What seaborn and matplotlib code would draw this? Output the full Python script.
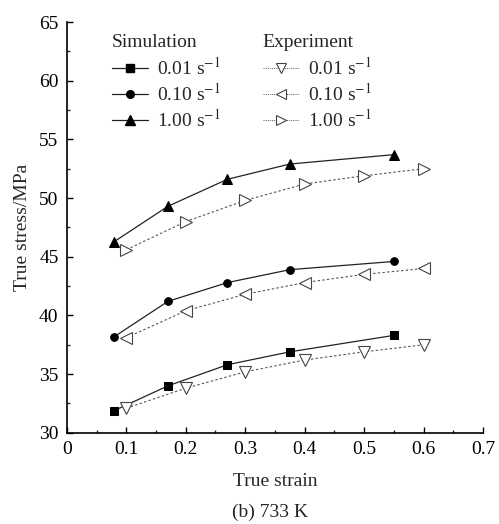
import matplotlib
matplotlib.use("Agg")
import matplotlib.pyplot as plt
from matplotlib.ticker import MultipleLocator, FuncFormatter
from matplotlib.lines import Line2D
import seaborn as sns
import pandas as pd

sns.set_theme(style="ticks")
plt.rcParams["font.family"] = ["Liberation Serif", "DejaVu Serif"]
plt.rcParams["mathtext.fontset"] = "stix"

rate_labels = ["0.01 s$^{-1}$", "0.10 s$^{-1}$", "1.00 s$^{-1}$"]

sim_strain = [0.08, 0.17, 0.27, 0.375, 0.55]
sim_001 = [31.9, 34.0, 35.8, 36.9, 38.3]
sim_010 = [38.2, 41.2, 42.8, 43.9, 44.6]
sim_100 = [46.3, 49.3, 51.6, 52.9, 53.7]

exp_strain = [0.1, 0.2, 0.3, 0.4, 0.5, 0.6]
exp_001 = [32.1, 33.8, 35.2, 36.2, 36.9, 37.5]
exp_010 = [38.1, 40.4, 41.8, 42.8, 43.5, 44.0]
exp_100 = [45.6, 48.0, 49.8, 51.2, 51.9, 52.5]

FS = 14

fig = plt.figure(figsize=(4.99, 5.24), dpi=100)
ax = fig.add_axes([0.134, 0.174, 0.834, 0.784])

sim_markers = ["s", "o", "^"]
sim_sizes = [5.5, 5.5, 7]
exp_markers = ["v", "<", ">"]

sim_handles = []
for vals, mk, ms, lab in zip([sim_001, sim_010, sim_100], sim_markers, sim_sizes, rate_labels):
    df = pd.DataFrame({"strain": sim_strain, "stress": vals})
    sns.lineplot(data=df, x="strain", y="stress", ax=ax, color="#222222",
                 linewidth=0.9, marker=mk, markersize=ms, markeredgecolor="black",
                 markerfacecolor="black")
    sim_handles.append(Line2D([], [], color="#222222", linewidth=0.9, marker=mk,
                              markersize=ms, markeredgecolor="black",
                              markerfacecolor="black", label=lab))

exp_handles = []
for vals, mk, lab in zip([exp_001, exp_010, exp_100], exp_markers, rate_labels):
    df = pd.DataFrame({"strain": exp_strain, "stress": vals})
    sns.lineplot(data=df, x="strain", y="stress", ax=ax, color="#555555",
                 linewidth=0.8, linestyle=(0, (2.2, 2)), marker=mk, markersize=8,
                 markeredgecolor="#444444", markerfacecolor="white",
                 markeredgewidth=0.8)
    exp_handles.append(Line2D([], [], color="#555555", linewidth=0.7,
                              linestyle=(0, (1, 1.2)), marker=mk, markersize=6.5,
                              markeredgecolor="#444444", markerfacecolor="white",
                              markeredgewidth=0.8, label=lab))

ax.set_xlim(0, 0.7)
ax.set_ylim(30, 65)
ax.xaxis.set_major_locator(MultipleLocator(0.1))
ax.xaxis.set_minor_locator(MultipleLocator(0.05))
ax.yaxis.set_major_locator(MultipleLocator(5))
ax.yaxis.set_minor_locator(MultipleLocator(2.5))
ax.xaxis.set_major_formatter(FuncFormatter(lambda v, p: "0" if abs(v) < 1e-9 else f"{v:.1f}"))
ax.tick_params(which="major", direction="in", length=4, width=1, labelsize=FS,
               colors="black", pad=6)
ax.tick_params(which="minor", direction="in", length=2.5, width=1)
sns.despine(ax=ax)
for s in ("left", "bottom"):
    ax.spines[s].set_linewidth(1.2)
    ax.spines[s].set_color("black")

ax.set_xlabel("True strain", fontsize=FS, labelpad=11)
ax.set_ylabel("True stress/MPa", fontsize=FS, labelpad=6)

# legend group headings
ax.text(0.108, 0.951, "Simulation", transform=ax.transAxes, fontsize=FS,
        ha="left", va="center")
ax.text(0.471, 0.951, "Experiment", transform=ax.transAxes, fontsize=FS,
        ha="left", va="center")

leg_kw = dict(frameon=False, fontsize=FS, handlelength=1.85,
              handletextpad=0.45, labelspacing=0.2, borderaxespad=0, borderpad=0)
leg1 = ax.legend(handles=sim_handles, loc="upper left",
                 bbox_to_anchor=(0.108, 0.915), **leg_kw)
ax.add_artist(leg1)
ax.legend(handles=exp_handles, loc="upper left",
          bbox_to_anchor=(0.471, 0.915), **leg_kw)

fig.text(0.541, 0.023, "(b) 733 K", ha="center", va="center", fontsize=FS)

fig.savefig("out.png", dpi=100, facecolor="white")
